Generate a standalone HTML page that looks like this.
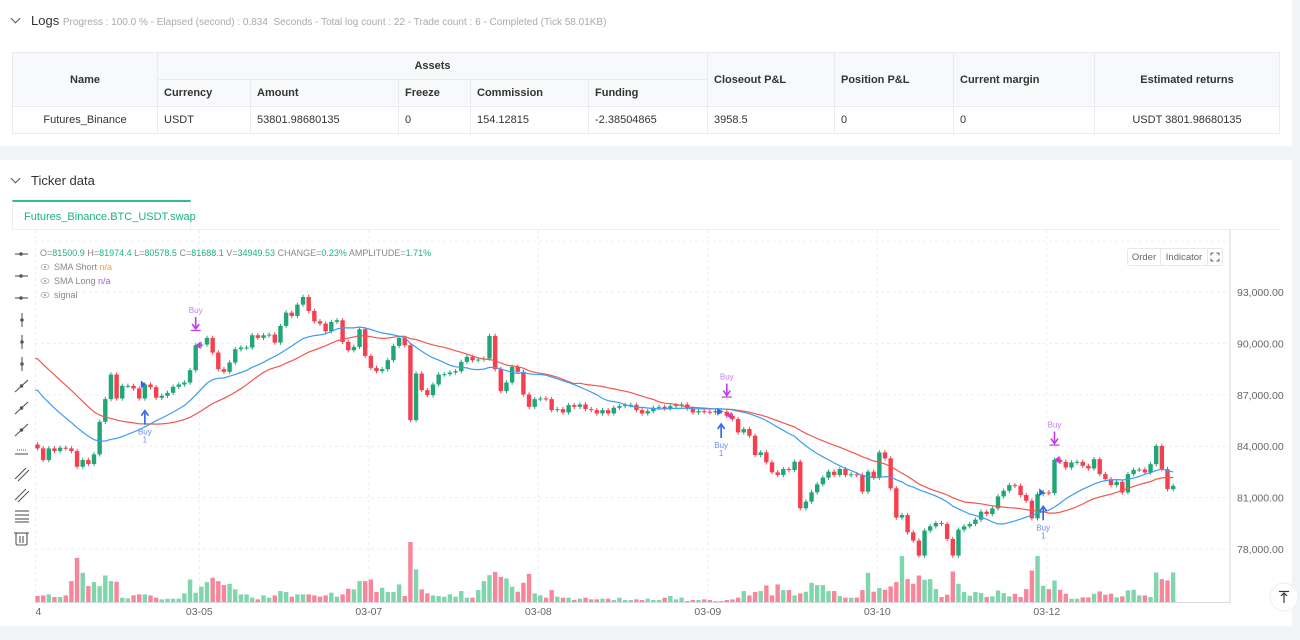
<!DOCTYPE html>
<html><head><meta charset="utf-8"><style>
*{box-sizing:border-box;margin:0;padding:0}
body{width:1300px;height:640px;overflow:hidden;background:#f2f3f5;font-family:"Liberation Sans",sans-serif;position:relative;color:#333}
.card{position:absolute;left:0;width:1292px;background:#fff}
.hdr{position:absolute;font-size:13px;color:#333}
.hdr .chev{display:inline-block;width:7px;height:7px;border-right:1.3px solid #555;border-bottom:1.3px solid #555;transform:rotate(45deg);margin-right:12px;position:relative;top:-3px}
.sub{font-size:10px;color:#aaa}
table{position:absolute;left:12px;top:52px;width:1268px;border-collapse:collapse;font-size:11px}
td,th{border:1px solid #e9ebee;padding:0 6px;height:27px;text-align:left;font-weight:normal}
th{background:#f8f9fa;font-weight:bold;color:#333}
.c{text-align:center}
</style></head><body>
<div class="card" style="top:0;height:146px">
 <div class="hdr" style="left:12px;top:13px"><span class="chev"></span>Logs <span class="sub">Progress : 100.0 % - Elapsed (second) : 0.834 &nbsp;Seconds - Total log count : 22 - Trade count : 6 - Completed (Tick 58.01KB)</span></div>
 <table>
  <tr><th rowspan="2" class="c" style="width:145px">Name</th><th colspan="5" class="c">Assets</th><th rowspan="2" style="width:127px">Closeout P&amp;L</th><th rowspan="2" style="width:119px">Position P&amp;L</th><th rowspan="2" style="width:141px">Current margin</th><th rowspan="2" class="c">Estimated returns</th></tr>
  <tr><th style="width:93px">Currency</th><th style="width:148px">Amount</th><th style="width:72px">Freeze</th><th style="width:118px">Commission</th><th style="width:119px">Funding</th></tr>
  <tr><td class="c">Futures_Binance</td><td>USDT</td><td>53801.98680135</td><td>0</td><td>154.12815</td><td>-2.38504865</td><td>3958.5</td><td>0</td><td>0</td><td class="c">USDT 3801.98680135</td></tr>
 </table>
</div>
<div class="card" style="top:160px;height:466px">
 <div class="hdr" style="left:12px;top:13px"><span class="chev"></span>Ticker data</div>
 <div style="position:absolute;left:12px;top:40px;width:179px;height:30px;border-top:2px solid #2bbf8a;border-left:1px solid #eee;border-right:1px solid #eee;color:#17b57c;font-size:11px;padding:9px 0 0 11px">Futures_Binance.BTC_USDT.swap</div>
 <div style="position:absolute;left:12px;top:69px;width:1268px;border-top:1px solid #eceef0"></div>
</div>
<svg id="chart" width="1300" height="640" style="position:absolute;left:0;top:0" font-family="Liberation Sans, sans-serif"></svg>
<script>
const hist=[93000,93500,92800,93200,92500,92900,92600,92400,92700,92400,91000,90500,90200,89800,89500,89000,88800,88300,87900,87500,87000,86600,86200,85800,85300,85000,84600,84300,84100];
const closes=[83873,83193,83873,83717,83912,83873,83717,82805,83193,82960,83523,85426,86747,88184,86786,87524,87524,87369,86786,87601,87446,86825,86941,87116,87466,87601,87718,88437,89893,89932,90320,89466,88495,88340,88883,89660,89757,89757,90476,90320,90476,90515,90049,91020,91796,91602,92262,92709,91893,91291,91155,90709,91252,91350,90087,89602,89796,90826,89272,88572,88378,88495,89019,89854,90320,89893,85524,88242,87272,86980,87601,88184,88203,88301,
88378,88922,89214,89019,89058,89117,90437,88495,87213,87718,88631,88340,87019,86300,86747,86786,86747,86106,86164,85970,86398,86300,86436,86164,86106,85912,86106,85912,86242,86339,86398,86417,86106,85912,86048,86242,86300,86203,86339,86398,86436,86203,85970,86048,86009,85970,86048,86009,85776,85582,84805,85000,84611,83485,83640,83057,82475,82319,82669,82611,83096,80377,80766,81310,81776,82164,82514,82319,82669,82319,82358,82319,81348,82514,82164,83640,83291,81543,79834,
79983,78974,78489,77616,79071,79323,79515,79459,78586,77616,79128,79323,79459,79711,80177,80041,80371,81070,81399,81729,81690,81147,80817,79789,81206,81302,81263,83206,83087,82757,83048,83087,82854,82699,83243,82369,82078,81729,81923,81302,82369,82621,82640,82466,82951,84018,82660,81496,81688];
const volumes=[18,20,23,15,15,20,63,133,88,48,60,48,80,63,61,13,11,20,23,23,20,13,8,10,10,10,26,68,28,46,60,73,63,51,55,38,23,23,13,8,20,13,20,33,30,16,23,23,23,20,16,20,28,16,23,40,38,63,63,68,30,43,30,30,53,18,181,98,38,26,20,18,16,23,
16,33,13,13,36,63,81,91,76,71,46,31,58,85,26,20,13,36,16,13,13,6,10,13,8,8,10,10,6,13,6,6,8,6,10,6,6,13,18,8,13,3,6,6,8,6,3,3,6,8,13,33,20,30,33,50,20,53,36,36,20,26,31,58,51,51,33,33,18,13,13,13,36,88,31,42,
37,47,60,139,69,55,80,67,69,39,15,22,92,55,30,19,30,27,15,17,35,27,17,25,15,39,95,139,49,39,65,37,25,10,10,14,14,25,32,22,25,14,17,35,37,20,20,15,89,69,65,89];
const dateLabels=["04","03-05","03-07","03-08","03-09","03-10","03-12"];
const dateIdx=[0,29,59,89,119,149,179];
const priceTicks=[93000,90000,87000,84000,81000,78000];
const buyIdx=[19,121,178];
const signalIdx=[28,122,180];
const shortPeriod=20, longPeriod=30;

const svg=document.getElementById('chart');
const NS='http://www.w3.org/2000/svg';
function mk(tag,attrs,parent){const e=document.createElementNS(NS,tag);for(const k in attrs)e.setAttribute(k,attrs[k]);(parent||svg).appendChild(e);return e;}
const X0=37.5,DX=5.65,volBase=602,volH=60;
const xAt=i=>X0+i*DX;
const yP=p=>292+(93000-p)*0.017133;
const maxV=Math.max(...volumes);
const yV=v=>volBase-v/maxV*volH;

const grid=mk('g',{});


priceTicks.forEach(p=>mk('line',{x1:35,x2:1230,y1:yP(p),y2:yP(p),stroke:'#eceef0','stroke-dasharray':'3,3'},grid));
mk('line',{x1:35,x2:1230,y1:241,y2:241,stroke:'#f0f1f3','stroke-dasharray':'3,3'},grid);
dateIdx.forEach(i=>mk('line',{x1:xAt(i)-2,x2:xAt(i)-2,y1:230,y2:602,stroke:'#eceef0','stroke-dasharray':'3,3'},grid));
mk('line',{x1:1230,x2:1230,y1:230,y2:603,stroke:'#d8dadd'});
mk('line',{x1:35,x2:1230,y1:602.5,y2:602.5,stroke:'#d8dadd'});

priceTicks.forEach(p=>{const t=mk('text',{x:1237,y:yP(p)+4,'font-size':'10.5',fill:'#666'});t.textContent=p.toLocaleString('en-US',{minimumFractionDigits:2});

});
dateIdx.forEach((i,k)=>{const t=mk('text',{x:xAt(i)-2,y:615,'font-size':'10.5',fill:'#666','text-anchor':'middle'});t.textContent=dateLabels[k];

});
mk('rect',{x:0,y:603,width:35,height:20,fill:'#fff'});

const opens=closes.map((c,i)=>i==0?hist[hist.length-1]:closes[i-1]);
const G='#22a676',R='#f5404f',GV='#7fd6ac',RV='#f8869a';
closes.forEach((c,i)=>{
 const o=opens[i],up=c>=o,x=xAt(i);
 const vb=mk('rect',{x:x-2.2,y:yV(volumes[i]),width:4.4,height:volBase-yV(volumes[i]),fill:up?GV:RV});
 
 
 const hi=Math.max(o,c)+130,lo=Math.min(o,c)-130;
 const w=mk('line',{x1:x,x2:x,y1:yP(hi),y2:yP(lo),stroke:up?G:R,'stroke-width':1});
 
 
 const top=yP(Math.max(o,c)),bot=yP(Math.min(o,c));
 const b=mk('rect',{x:x-2.2,y:top,width:4.4,height:Math.max(1,bot-top),fill:up?G:R});
 
 
});

const all=hist.concat(closes);
function sma(n){return closes.map((c,i)=>{const j=i+hist.length;let s=0;for(let k=j-n+1;k<=j;k++)s+=all[k];return s/n;});}
function line(vals,color,name){const d=vals.map((v,i)=>(i?'L':'M')+xAt(i).toFixed(1)+','+yP(v).toFixed(1)).join('');
 const p=mk('path',{d:'M35,'+yP(vals[0]).toFixed(1)+'L'+d.slice(1),fill:'none',stroke:color,'stroke-width':1.2});
 
 }
line(sma(longPeriod),'#f0564f','sma-long-line');
line(sma(shortPeriod),'#3d9cf0','sma-short-line');

buyIdx.forEach(i=>{
 const x=xAt(i),lo=Math.min(opens[i],closes[i])-130,y=yP(lo)+10;
 const g=mk('g',{});
 
 
 mk('line',{x1:x,x2:x,y1:y+2,y2:y+14,stroke:'#2d62f0','stroke-width':1.6},g);
 mk('path',{d:`M${x-3.5},${y+5}L${x},${y}L${x+3.5},${y+5}`,fill:'none',stroke:'#2d62f0','stroke-width':1.6},g);
 const t=mk('text',{x:x,y:y+24,'font-size':'8',fill:'#6a8cf5','text-anchor':'middle'},g);t.textContent='Buy';
 const t2=mk('text',{x:x,y:y+32,'font-size':'8',fill:'#6a8cf5','text-anchor':'middle'},g);t2.textContent='1';
 mk('path',{d:`M${x-4},${yP(closes[i])-4}L${x+1},${yP(closes[i])}L${x-4},${yP(closes[i])+4}Z`,fill:'#2d62f0'},g);
});
signalIdx.forEach(i=>{
 const x=xAt(i),hi=Math.max(opens[i],closes[i])+130,y=yP(hi)-14;
 const g=mk('g',{});
 
 
 mk('line',{x1:x,x2:x,y1:y-12,y2:y-1,stroke:'#c03ae8','stroke-width':1.6},g);
 mk('path',{d:`M${x-3.5},${y-5}L${x},${y}L${x+3.5},${y-5}`,fill:'none',stroke:'#c03ae8','stroke-width':1.6},g);
 mk('line',{x1:x-5,x2:x+5,y1:y+1.5,y2:y+1.5,stroke:'#c03ae8','stroke-width':1.2},g);
 const t=mk('text',{x:x,y:y-16,'font-size':'8',fill:'#c77ef0','text-anchor':'middle'},g);t.textContent='Buy';
 const yc=yP(closes[i]);
 mk('path',{d:`M${x+5},${yc-4}L${x},${yc}L${x+5},${yc+4}Z`,fill:'#c03ae8'},g);
});

const lg=mk('text',{x:40,y:256,'font-size':'9',fill:'#888'});


[['O=','81500.9'],[' H=','81974.4'],[' L=','80578.5'],[' C=','81688.1'],[' V=','34949.53'],[' CHANGE=','0.23%'],[' AMPLITUDE=','1.71%']].forEach(([a,b])=>{const s1=mk('tspan',{},lg);s1.textContent=a;const s2=mk('tspan',{fill:'#1db57a'},lg);s2.textContent=b;});
[['SMA Short','n/a','#f2a33a',270],['SMA Long','n/a','#a060e0',284],['signal','','',298]].forEach(([a,b,c,y])=>{
 const g=mk('g',{});
 
 
 mk('ellipse',{cx:45,cy:y-3,rx:4,ry:2.6,fill:'none',stroke:'#aaa','stroke-width':0.8},g);
 mk('circle',{cx:45,cy:y-3,r:1.2,fill:'#aaa'},g);
 const t=mk('text',{x:54,y:y,'font-size':'9',fill:'#888'},g);t.textContent=a+' ';
 if(b){const s=mk('tspan',{fill:c},t);s.textContent=b;}
});

[254,276,298,320,342,364,386,408,430,452,474,495,516,538].forEach((y,k)=>{
 const g=mk('g',{stroke:'#555','stroke-width':1.1,fill:'none'});
 
 
 if(k<3){mk('line',{x1:15,x2:28,y1:y,y2:y},g);mk('circle',{cx:21,cy:y,r:1.2,fill:'#555'},g);}
 else if(k<6){mk('line',{x1:22,x2:22,y1:y-7,y2:y+7},g);mk('circle',{cx:22,cy:y,r:1.2,fill:'#555'},g);}
 else if(k<9){mk('line',{x1:15,x2:28,y1:y+6,y2:y-6},g);mk('circle',{cx:21.5,cy:y,r:1.2,fill:'#555'},g);}
 else if(k==9){mk('line',{x1:15,x2:28,y1:y+2,y2:y+2},g);mk('line',{x1:17,x2:27,y1:y-2,y2:y-2,'stroke-dasharray':'1,1'},g);}
 else if(k<12){mk('line',{x1:15,x2:26,y1:y+5,y2:y-6},g);mk('line',{x1:18,x2:29,y1:y+7,y2:y-4},g);}
 else if(k==12){[-5,-1,3,6].forEach(d=>mk('line',{x1:15,x2:29,y1:y+d,y2:y+d},g));}
 else{mk('rect',{x:16,y:y-5,width:11,height:12,rx:1.5},g);mk('line',{x1:14,x2:29,y1:y-5,y2:y-5},g);mk('line',{x1:20,x2:20,y1:y-2,y2:y+5},g);mk('line',{x1:23,x2:23,y1:y-2,y2:y+5},g);}
});

const bg=mk('g',{});


mk('rect',{x:1127.5,y:248.5,width:95,height:17,rx:2,fill:'#fff',stroke:'#e6e8eb'},bg);
mk('line',{x1:1160.5,x2:1160.5,y1:249,y2:265,stroke:'#e6e8eb'},bg);
mk('line',{x1:1207.5,x2:1207.5,y1:249,y2:265,stroke:'#e6e8eb'},bg);
[['Order',1144,'order-button'],['Indicator',1184,'indicator-button']].forEach(([s,x,n])=>{const t=mk('text',{x:x,y:260,'font-size':'9.5',fill:'#666','text-anchor':'middle'},bg);t.textContent=s;

});
const fs=mk('path',{d:'M1211,253h2.5M1211,253v2.5M1219,253h-2.5M1219,253v2.5M1211,261h2.5M1211,261v-2.5M1219,261h-2.5M1219,261v-2.5',stroke:'#555','stroke-width':1},bg);


const st=mk('g',{});


mk('circle',{cx:1284,cy:597,r:14,fill:'#fff',stroke:'#eee'},st);
mk('line',{x1:1279,x2:1289,y1:591.5,y2:591.5,stroke:'#333','stroke-width':1.2},st);
mk('line',{x1:1284,x2:1284,y1:593,y2:603,stroke:'#333','stroke-width':1.2},st);
mk('path',{d:'M1281,596L1284,593L1287,596',fill:'none',stroke:'#333','stroke-width':1.2},st);
</script>
</body></html>
